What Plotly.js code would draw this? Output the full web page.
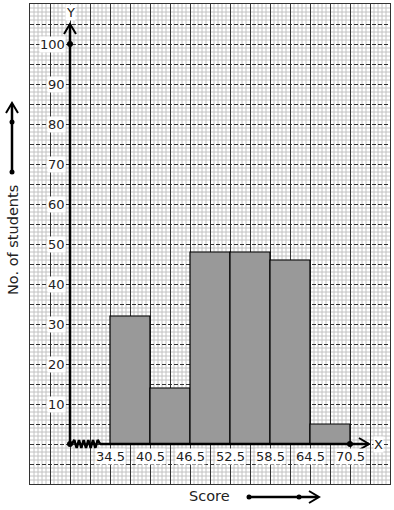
<!DOCTYPE html>
<html><head><meta charset="utf-8">
<script src="https://cdn.plot.ly/plotly-3.0.1.min.js"></script>
<style>html,body{margin:0;padding:0;background:#fff}#c{width:394px;height:510px}</style>
</head><body><div id="c"></div>
<script>
const classLower = [34.5, 40.5, 46.5, 52.5, 58.5, 64.5];
const classWidth = 6;
const frequencies = [32, 14, 48, 48, 46, 5];
const xTickLabels = ['34.5','40.5','46.5','52.5','58.5','64.5','70.5'];
const xTickValues = [34.5, 40.5, 46.5, 52.5, 58.5, 64.5, 70.5];
const yTickValues = [10,20,30,40,50,60,70,80,90,100];

const W=394,H=510,L=30,R=4,T=4,B=26;
const xr=[22.5,76.5], yr=[-10,110];
const pw=W-L-R, ph=H-T-B;
const px2x = p => xr[0] + (p-L)/pw*(xr[1]-xr[0]);
const py2y = p => yr[0] + (H-B-p)/ph*(yr[1]-yr[0]);
const ppx = p => (p-L)/pw;
const ppy = p => (H-B-p)/ph;
const font = {family:'DejaVu Sans', size:13, color:'#222'};

const bar = {
  type:'bar', x: classLower.map(v=>v+classWidth/2), y: frequencies, width: classWidth,
  marker:{color:'#999999', line:{color:'#000', width:1.2}}, hoverinfo:'skip'
};

const zx=[], zy=[];
const zStart=72, zEnd=100, n=12;
for(let i=0;i<=n;i++){ zx.push(px2x(zStart+(zEnd-zStart)*i/n)); zy.push(i===0||i===n?0:(i%2?1:-1)); }
const zig = {type:'scatter', mode:'lines', x:zx, y:zy, line:{color:'#000', width:2.5}, hoverinfo:'skip'};
const ox = px2x(70);
const dots = {type:'scatter', mode:'markers', x:[ox, ox, 70.5], y:[0,100,0],
  marker:{color:'#000', size:6}, hoverinfo:'skip'};

const shapes = [];
const minorLine = {color:'#c2c2c2', width:1};
for(let i=1;i<90;i++){ if(i%5===0) continue; const x=xr[0]+0.6*i;
  shapes.push({type:'line', xref:'x', yref:'y', x0:x, x1:x, y0:yr[0], y1:yr[1], line:minorLine, layer:'below'}); }
for(let i=1;i<120;i++){ if(i%5===0) continue; const y=yr[0]+i;
  shapes.push({type:'line', xref:'x', yref:'y', x0:xr[0], x1:xr[1], y0:y, y1:y, line:minorLine, layer:'below'}); }
shapes.push({type:'line', xref:'x', yref:'y', x0:ox, x1:ox, y0:0, y1:py2y(24), line:{color:'#000', width:2.5}});
shapes.push({type:'path', xref:'x', yref:'y', path:`M${px2x(64)},${py2y(34)} L${ox},${py2y(24)} L${px2x(76)},${py2y(34)}`, line:{color:'#000', width:2}});
shapes.push({type:'line', xref:'x', yref:'y', x0:px2x(100), x1:px2x(369), y0:0, y1:0, line:{color:'#000', width:2.5}});
shapes.push({type:'path', xref:'x', yref:'y', path:`M${px2x(359)},${py2y(438)} L${px2x(369)},${py2y(444)} L${px2x(359)},${py2y(450)}`, line:{color:'#000', width:2}});
shapes.push({type:'line', xref:'paper', yref:'paper', x0:ppx(12), x1:ppx(12), y0:ppy(172), y1:ppy(104), line:{color:'#000', width:2.5}});
shapes.push({type:'path', xref:'paper', yref:'paper', path:`M${ppx(6)},${ppy(113)} L${ppx(12)},${ppy(103)} L${ppx(18)},${ppy(113)}`, line:{color:'#000', width:2}});
shapes.push({type:'line', xref:'paper', yref:'paper', x0:ppx(249), x1:ppx(318), y0:ppy(497), y1:ppy(497), line:{color:'#000', width:2.5}});
shapes.push({type:'path', xref:'paper', yref:'paper', path:`M${ppx(309)},${ppy(491)} L${ppx(319)},${ppy(497)} L${ppx(309)},${ppy(503)}`, line:{color:'#000', width:2}});
const dot = (cx,cy)=>({type:'circle', xref:'paper', yref:'paper', x0:ppx(cx-2.5), x1:ppx(cx+2.5), y0:ppy(cy+2.5), y1:ppy(cy-2.5), fillcolor:'#000', line:{color:'#000', width:0}});
shapes.push(dot(12,172), dot(12,122), dot(249,497), dot(299,497));

const annotations = [];
const ann = o => annotations.push(Object.assign({showarrow:false, xanchor:'center', yanchor:'middle', font}, o));
xTickValues.forEach((v,i)=>ann({x:v, y:py2y(456), xref:'x', yref:'y', text:xTickLabels[i], bgcolor:'#fff', borderpad:0}));
yTickValues.forEach(v=>ann({x:px2x(66), y:v, xref:'x', yref:'y', text:String(v), xanchor:'right', bgcolor:'#fff', borderpad:0}));
ann({x:ox, y:py2y(12), xref:'x', yref:'y', text:'Y', bgcolor:'#fff', borderpad:0});
ann({x:px2x(378), y:0, xref:'x', yref:'y', text:'X', bgcolor:'#fff', borderpad:0});
ann({x:ppx(13), y:ppy(240), xref:'paper', yref:'paper', text:'No. of students', textangle:-90, font:{...font, size:14.5}});
ann({x:ppx(209), y:ppy(496), xref:'paper', yref:'paper', text:'Score', font:{...font, size:14.5}});

const layout = {
  width:W, height:H, margin:{l:L,r:R,t:T,b:B,pad:0},
  paper_bgcolor:'#fff', plot_bgcolor:'#fff', showlegend:false,
  xaxis:{range:xr, tick0:22.5, dtick:3, showticklabels:false, ticks:'', zeroline:false,
    showgrid:true, gridcolor:'#333', gridwidth:1,
    showline:true, mirror:true, linecolor:'#333', linewidth:1, fixedrange:true},
  yaxis:{range:yr, tick0:-10, dtick:5, showticklabels:false, ticks:'', zeroline:false,
    showgrid:true, gridcolor:'#333', gridwidth:1, griddash:'4px,2px',
    showline:true, mirror:true, linecolor:'#333', linewidth:1, fixedrange:true},
  shapes, annotations
};
Plotly.newPlot('c', [bar, zig, dots], layout, {staticPlot:true});
</script></body></html>
